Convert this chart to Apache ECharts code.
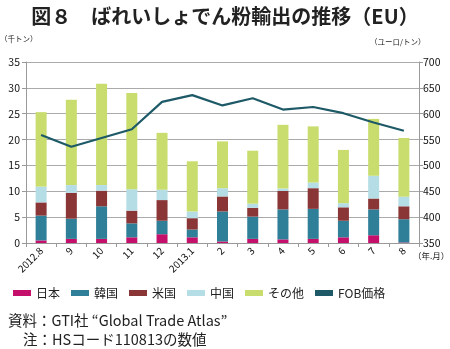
<!DOCTYPE html>
<html><head><meta charset="utf-8">
<script src="https://cdn.jsdelivr.net/npm/echarts@6/dist/echarts.min.js"></script>
<style>html,body{margin:0;padding:0;background:#fff}#c{width:450px;height:349px}</style>
</head><body><div id="c"></div>
<script>
const categories = ['2012.8','9','10','11','12','2013.1','2','3','4','5','6','7','8'];
const japan  = [0.5, 0.8, 0.8, 1.1, 1.7, 1.1, 0.3, 0.8, 0.7, 0.8, 1.1, 1.5, 0.1];
const korea  = [4.8, 3.9, 6.3, 2.7, 2.6, 1.5, 5.8, 4.3, 5.8, 5.8, 3.2, 5.0, 4.5];
const usa    = [2.55, 5.0, 3.0, 2.45, 4.0, 2.2, 2.9, 1.7, 3.55, 4.0, 2.6, 2.1, 2.5];
const china  = [3.05, 1.5, 1.1, 4.15, 2.0, 1.3, 1.6, 0.8, 0.5, 1.1, 0.8, 4.4, 1.85];
const other  = [14.4, 16.5, 19.6, 18.6, 11.0, 9.7, 9.05, 10.25, 12.3, 10.85, 10.3, 11.0, 11.35];
const fob    = [559, 536, 553, 570, 623, 636, 616, 630, 608, 613, 601, 583, 567];
const leftTicks = [0, 35, 5];
const rightTicks = [350, 700, 50];

const font = '"Noto Sans CJK JP", "Noto Sans", sans-serif';
const chart = echarts.init(document.getElementById('c'), null, {renderer: 'canvas'});
const barW = 11;
function bar(name, data, color) {
  return {name, type: 'bar', stack: 's', data, barWidth: barW, itemStyle: {color}, yAxisIndex: 0};
}
chart.setOption({
  animation: false,
  textStyle: {fontFamily: font},
  grid: {left: 26, right: 31, top: 62, bottom: 106, containLabel: false},
  legend: {
    left: 8, top: 282, itemWidth: 18, itemHeight: 6, itemGap: 11,
    textStyle: {fontSize: 12, color: '#222', fontFamily: font},
    data: [
      {name: '日本', icon: 'rect'}, {name: '韓国', icon: 'rect'}, {name: '米国', icon: 'rect'},
      {name: '中国', icon: 'rect'}, {name: 'その他', icon: 'rect'}, {name: 'FOB価格', icon: 'rect', itemStyle: {color: '#1d5967'}}
    ]
  },
  xAxis: {
    type: 'category', data: categories, boundaryGap: true,
    axisLine: {lineStyle: {color: '#999'}},
    axisTick: {show: true, lineStyle: {color: '#999'}, length: 4},
    axisLabel: {rotate: 45, fontSize: 10, color: '#111', margin: 6, interval: 0}
  },
  yAxis: [
    {type: 'value', min: leftTicks[0], max: leftTicks[1], interval: leftTicks[2],
     axisLine: {show: true, lineStyle: {color: '#999'}}, axisTick: {show: true, length: 4, lineStyle: {color: '#999'}},
     splitLine: {lineStyle: {color: '#aaa', width: 1}},
     axisLabel: {fontSize: 10.5, color: '#111', margin: 6}},
    {type: 'value', min: rightTicks[0], max: rightTicks[1], interval: rightTicks[2],
     axisLine: {show: true, lineStyle: {color: '#999'}}, axisTick: {show: true, length: 4, lineStyle: {color: '#999'}},
     splitLine: {show: false},
     axisLabel: {fontSize: 10.5, color: '#111', margin: 4}}
  ],
  series: [
    bar('日本', japan, '#c4106b'),
    bar('韓国', korea, '#2e7f97'),
    bar('米国', usa, '#8b3636'),
    bar('中国', china, '#b5dde5'),
    bar('その他', other, '#c8dd6e'),
    {name: 'FOB価格', type: 'line', yAxisIndex: 1, data: fob, symbol: 'none',
     lineStyle: {color: '#1d5967', width: 2.2}, itemStyle: {color: '#1d5967'}}
  ],
  graphic: [
    {type: 'text', left: 'center', top: 6, style: {text: '図８　ばれいしょでん粉輸出の推移（EU）', font: 'bold 20px ' + font, fill: '#222'}},
    {type: 'text', left: 0, top: 35, style: {text: '（千トン）', font: '7.5px ' + font, fill: '#222'}},
    {type: 'text', left: 370, top: 38, style: {text: '（ユーロ/トン）', font: '7.5px ' + font, fill: '#222'}},
    {type: 'text', left: 413, top: 252, style: {text: '（年.月）', font: '8.5px ' + font, fill: '#222'}},
    {type: 'text', left: 8, top: 313, style: {text: '資料：GTI社 “Global Trade Atlas”', font: '14.5px ' + font, fill: '#222'}},
    {type: 'text', left: 23, top: 332, style: {text: '注：HSコード110813の数値', font: '14.5px ' + font, fill: '#222'}}
  ]
});
</script></body></html>
